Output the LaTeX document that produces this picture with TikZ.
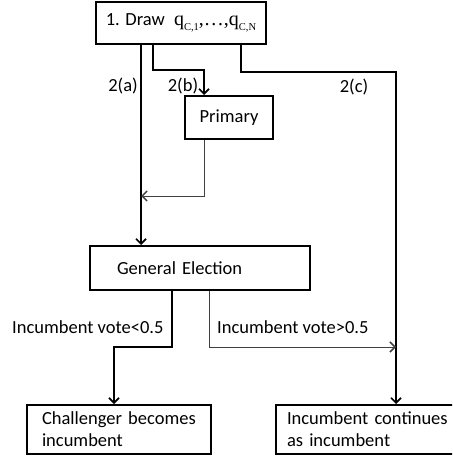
\documentclass[tikz,border=0pt]{standalone}
\usepackage{fontspec}
\setmainfont{Carlito}
\newfontfamily\tnr{Liberation Serif}
\usetikzlibrary{arrows.meta}
\newcommand{\qsub}[1]{\raisebox{-5pt}{\fontsize{10.5}{11}\selectfont #1}}
\begin{document}
\begin{tikzpicture}[x=1pt,y=-1pt,
  txt/.style={font=\fontsize{18.5}{22}\selectfont},
  box/.style={draw, line width=2pt, txt, inner sep=0pt},
  conn/.style={line width=1.7pt, -{Straight Barb[length=5pt,width=10pt]}},
  thinconn/.style={line width=1pt, draw=black!75, -{Straight Barb[length=5pt,width=10pt,line width=1.5pt]}},
  lbl/.style={txt, inner sep=0pt}]
\clip (0,0) rectangle (452,457);
\useasboundingbox (0,0) rectangle (452,457);
% boxes
\node[box, line width=2.8pt, minimum width=170, minimum height=42] (top) at (181,23)
  {1. Draw\hspace{5pt} {\tnr\fontsize{20}{22}\selectfont q\qsub{C,1},…,q\qsub{C,N}}};
\node[box, minimum width=88, minimum height=43] (prim) at (229,117.5) {Primary};
\node[box, minimum height=44, text width=166, inner xsep=27, align=left] (ge) at (200,268) {General Election};
\node[box, minimum height=49, text width=154, inner xsep=15, align=left] (chal) at (119,429.5)
  {\mbox{Challenger becomes}\\incumbent};
\node[box, minimum height=49, text width=162, inner xsep=11, align=left] (inc) at (368,429.5)
  {\mbox{Incumbent continues}\\as incumbent};
% coordinates
\coordinate (xa) at (141,0);
\coordinate (b1) at (153,70);
\coordinate (xp) at (204,0);
\coordinate (a1) at (141,196);
\coordinate (c1) at (241,72);
\coordinate (xr) at (396,0);
\coordinate (g1) at (172,347);
\coordinate (xg2) at (114,0);
\coordinate (xgr) at (209,0);
\coordinate (r1) at (396,347);
% connectors
\draw[conn] (top.south -| xa) -- (ge.north -| xa);
\draw[conn] (top.south -| b1) -- (b1) -| (prim.north -| xp);
\draw[thinconn] (prim.south -| xp) |- (a1);
\draw[conn] (top.south -| c1) -- (c1) -| (inc.north -| xr);
\draw[conn] (ge.south -| g1) -- (g1) -| (chal.north -| xg2);
\draw[thinconn] (ge.south -| xgr) |- (r1);
% labels
\node[lbl] (la) at (123,86) {2(a)};
\node[lbl] (lb) at (183,86) {2(b)};
\node[lbl] (lc) at (354,87) {2(c)};
\node[lbl, anchor=west] (lless) at (12,327) {Incumbent vote<0.5};
\node[lbl, anchor=west] (lmore) at (217,327) {Incumbent vote>0.5};
\end{tikzpicture}
\end{document}
